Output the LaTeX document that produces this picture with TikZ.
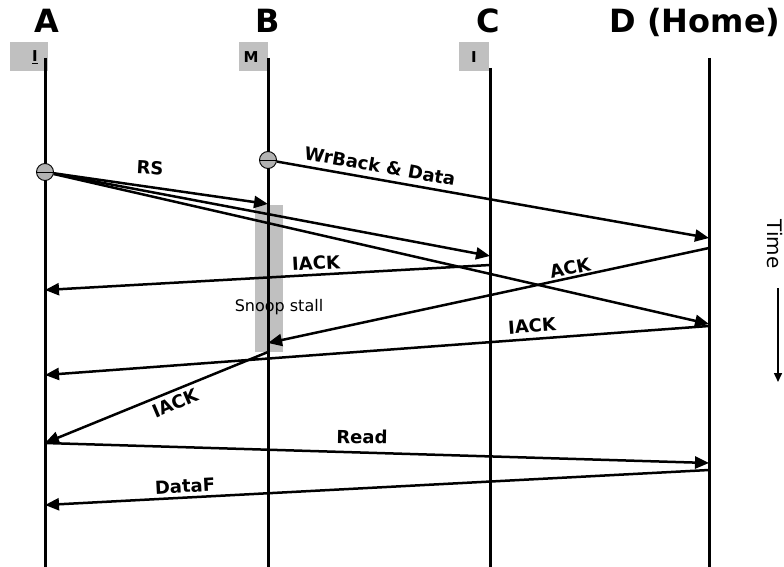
\documentclass[tikz,border=0pt]{standalone}
\usepackage{fontspec}
\setmainfont{DejaVu Sans}
\usetikzlibrary{arrows.meta}
\definecolor{boxgray}{RGB}{192,192,192}

\begin{document}
\begin{tikzpicture}[x=1pt,y=-1pt,
        life/.style={line width=3pt},
        msg/.style={line width=2.5pt,-{Triangle[length=14pt,width=12pt]}},
        head/.style={anchor=base,inner sep=0pt,font=\fontsize{32}{36}\selectfont\bfseries},
        state/.style={inner sep=0pt,font=\fontsize{15}{17}\selectfont\bfseries},
        lbl/.style={inner sep=0pt,font=\fontsize{18}{20}\selectfont\bfseries},
        dot/.style={circle,draw,line width=0.9pt,fill=gray!60,minimum size=17pt,inner sep=0pt}]
        \useasboundingbox (0,0) rectangle (784,567);
        % processors
        \node[head] (A) at (47,33) {A};
        \node[head] (B) at (268,33) {B};
        \node[head] (C) at (488,33) {C};
        \node[head] (D) at (695,33) {D (Home)};
        \fill[boxgray] (10,42) rectangle (48,71);
        \fill[boxgray] (239,42) rectangle (268,71);
        \fill[boxgray] (459,42) rectangle (489,71);
        \node[state] (sA) at (35,57) {\underline{I}};
        \node[state] (sB) at (251,57) {M};
        \node[state] (sC) at (474,57) {I};
        \fill[boxgray] (255,205) rectangle (283,352);
        \coordinate (a0) at (45,58);  \coordinate (a1) at (45,567);
        \coordinate (b0) at (268,58); \coordinate (b1) at (268,567);
        \coordinate (c0) at (490,68); \coordinate (c1) at (490,567);
        \coordinate (d0) at (709,58); \coordinate (d1) at (709,567);
        \draw[life] (a0) -- (a1);
        \draw[life] (b0) -- (b1);
        \draw[life] (c0) -- (c1);
        \draw[life] (d0) -- (d1);
        % messages
        \node[dot] (rs) at (45,172) {};
        \node[dot] (wb) at (268,160) {};
        \draw[line width=0.9pt] (rs.west) -- (rs.east);
        \draw[line width=0.9pt] (wb.west) -- (wb.east);
        \coordinate (rsB) at (268,204);
        \coordinate (rsC) at (490,256);
        \coordinate (rsD) at (709,324);
        \coordinate (wbD) at (709,238);
        \draw[msg] (rs) -- (rsB);
        \draw[msg] (rs) -- (rsC);
        \draw[msg] (rs) -- (rsD);
        \draw[msg] (wb) -- (wbD);
        \coordinate (ia0) at (490,265); \coordinate (ia1) at (45,290);
        \coordinate (ack0) at (709,248); \coordinate (ack1) at (268,343);
        \coordinate (ib0) at (709,326); \coordinate (ib1) at (45,375);
        \coordinate (ic0) at (268,352); \coordinate (ic1) at (45,443);
        \coordinate (rd0) at (45,443); \coordinate (rd1) at (709,463);
        \coordinate (df0) at (709,470); \coordinate (df1) at (45,505);
        \draw[msg] (ia0) -- (ia1);
        \draw[msg] (ack0) -- (ack1);
        \draw[msg] (ib0) -- (ib1);
        \draw[msg] (ic0) -- (ic1);
        \draw[msg] (rd0) -- (rd1);
        \draw[msg] (df0) -- (df1);
        % labels
        \node[lbl,rotate=-3] (lRS) at (150,168) {RS};
        \node[lbl,rotate=-10] (lWB) at (380,166) {WrBack \& Data};
        \node[lbl,rotate=3] (lIA) at (316,263) {IACK};
        \node[lbl,rotate=12] (lACK) at (570,268) {ACK};
        \node[lbl,rotate=4] (lIB) at (532,326) {IACK};
        \node[lbl,rotate=23] (lIC) at (175,403) {IACK};
        \node[lbl,rotate=-1] (lRD) at (362,437) {Read};
        \node[lbl,rotate=3] (lDF) at (185,486) {DataF};
        \node[inner sep=0pt,font=\fontsize{16}{18}\selectfont] (stall) at (279,307) {Snoop stall};
        % time axis
        \node[inner sep=0pt,rotate=-90,font=\fontsize{20}{22}\selectfont] (time) at (775,244) {Time};
        \coordinate (t0) at (778,288);
        \coordinate (t1) at (778,382);
        \draw[line width=1.6pt,-{Triangle[length=9pt,width=8pt]}] (t0) -- (t1);
\end{tikzpicture}
\end{document}
